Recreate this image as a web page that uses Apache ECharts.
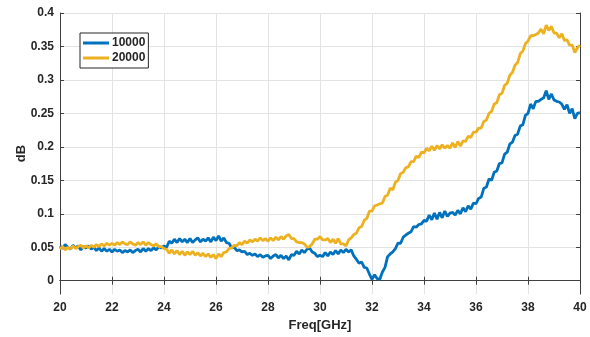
<!DOCTYPE html>
<html>
<head>
<meta charset="utf-8">
<script src="https://cdn.jsdelivr.net/npm/echarts@6.0.0/dist/echarts.min.js"></script>
<style>
  html, body { margin: 0; padding: 0; background: #fff; }
  #chart { width: 590px; height: 337px; }
</style>
</head>
<body>
<div id="chart"></div>
<script>
// Frequency grid, 20 to 40 GHz in 0.1 GHz steps
const freqs = Array.from({ length: 201 }, (_, i) => +(20 + i * 0.1).toFixed(1));

const xTicks = [20, 22, 24, 26, 28, 30, 32, 34, 36, 38, 40];
const yTicks = [0, 0.05, 0.1, 0.15, 0.2, 0.25, 0.3, 0.35, 0.4];

// 10000 (blue)
const s10000 = [
  0.052,0.048,0.054,0.050,0.047,0.053,0.049,0.052,0.046,0.051,
  0.049,0.052,0.047,0.050,0.045,0.049,0.044,0.048,0.044,0.047,
  0.043,0.047,0.044,0.046,0.042,0.045,0.043,0.046,0.042,0.045,
  0.047,0.043,0.048,0.044,0.048,0.045,0.049,0.046,0.051,0.049,
  0.052,0.050,0.059,0.056,0.062,0.057,0.063,0.058,0.062,0.057,
  0.063,0.057,0.061,0.064,0.058,0.062,0.059,0.064,0.058,0.065,
  0.060,0.067,0.059,0.064,0.057,0.056,0.049,0.050,0.045,0.046,
  0.043,0.044,0.039,0.041,0.038,0.040,0.036,0.039,0.035,0.037,
  0.038,0.033,0.037,0.039,0.034,0.038,0.033,0.037,0.031,0.039,
  0.038,0.044,0.040,0.046,0.042,0.047,0.049,0.043,0.041,0.036,
  0.038,0.036,0.042,0.037,0.043,0.039,0.045,0.040,0.046,0.042,
  0.047,0.043,0.046,0.037,0.032,0.026,0.028,0.020,0.019,0.010,
  0.002,0.009,0.003,0.002,0.013,0.020,0.036,0.040,0.043,0.048,
  0.056,0.056,0.065,0.068,0.071,0.073,0.081,0.080,0.084,0.085,
  0.090,0.089,0.098,0.091,0.101,0.092,0.102,0.094,0.104,0.096,
  0.101,0.102,0.098,0.105,0.100,0.109,0.103,0.112,0.107,0.116,
  0.115,0.123,0.125,0.138,0.140,0.152,0.150,0.162,0.164,0.175,
  0.176,0.189,0.192,0.204,0.207,0.217,0.219,0.231,0.233,0.247,
  0.250,0.264,0.257,0.268,0.268,0.271,0.273,0.284,0.271,0.279,
  0.270,0.268,0.267,0.264,0.256,0.263,0.250,0.257,0.242,0.250,
  0.251
];

// 20000 (yellow)
const s20000 = [
  0.047,0.051,0.046,0.050,0.047,0.052,0.048,0.051,0.053,0.049,
  0.052,0.049,0.053,0.050,0.054,0.051,0.055,0.052,0.056,0.053,
  0.056,0.053,0.057,0.054,0.058,0.055,0.054,0.058,0.055,0.053,
  0.057,0.054,0.058,0.053,0.057,0.054,0.052,0.055,0.051,0.051,
  0.048,0.047,0.041,0.046,0.040,0.045,0.039,0.044,0.038,0.043,
  0.039,0.044,0.038,0.042,0.037,0.041,0.036,0.040,0.035,0.039,
  0.033,0.040,0.036,0.042,0.043,0.048,0.049,0.053,0.052,0.057,
  0.054,0.059,0.056,0.061,0.058,0.062,0.059,0.064,0.060,0.063,
  0.059,0.064,0.060,0.065,0.061,0.066,0.062,0.067,0.069,0.063,
  0.063,0.058,0.057,0.057,0.055,0.050,0.051,0.055,0.062,0.062,
  0.066,0.061,0.061,0.063,0.057,0.062,0.056,0.063,0.055,0.055,
  0.052,0.061,0.064,0.069,0.071,0.079,0.081,0.090,0.093,0.104,
  0.104,0.112,0.113,0.115,0.116,0.126,0.128,0.138,0.136,0.147,
  0.150,0.160,0.162,0.169,0.170,0.178,0.178,0.186,0.184,0.192,
  0.191,0.198,0.194,0.201,0.195,0.202,0.197,0.203,0.198,0.202,
  0.198,0.206,0.199,0.208,0.201,0.209,0.208,0.216,0.214,0.222,
  0.222,0.228,0.228,0.238,0.240,0.250,0.253,0.264,0.266,0.278,
  0.280,0.292,0.295,0.307,0.311,0.322,0.326,0.339,0.343,0.354,
  0.358,0.366,0.366,0.368,0.370,0.376,0.369,0.382,0.374,0.380,
  0.370,0.370,0.363,0.369,0.359,0.360,0.352,0.352,0.341,0.348,
  0.352
];

const chart = echarts.init(document.getElementById('chart'));

const labelFont = { color: '#262626', fontWeight: 'bold', fontSize: 12, fontFamily: 'Liberation Sans, Arial, sans-serif' };
const axisColor = '#404040';
const gridColor = '#e3e3e3';

const pairs = vals => freqs.map((f, i) => [f, vals[i]]);

chart.setOption({
  animation: false,
  grid: { left: 60, right: 10, top: 13, bottom: 42, containLabel: false },
  legend: {
    left: 80, top: 33,
    orient: 'vertical',
    icon: 'rect',
    itemWidth: 26, itemHeight: 3,
    itemGap: 3,
    padding: [4, 3, 4, 3],
    borderColor: '#262626', borderWidth: 1,
    backgroundColor: '#fff',
    textStyle: { ...labelFont, padding: [0, 0, 0, -2] },
    data: ['10000', '20000']
  },
  xAxis: [{
    type: 'value', min: 20, max: 40, interval: 2,
    name: 'Freq[GHz]', nameLocation: 'middle', nameGap: 24,
    nameTextStyle: { ...labelFont, fontSize: 13 },
    axisLine: { lineStyle: { color: axisColor } },
    axisTick: { inside: true, length: 4, lineStyle: { color: axisColor } },
    axisLabel: { ...labelFont, margin: 8 },
    splitLine: { show: true, lineStyle: { color: gridColor } }
  }, {
    type: 'value', min: 20, max: 40, interval: 2, position: 'top',
    axisLine: { show: true, lineStyle: { color: axisColor } },
    axisTick: { show: true, inside: true, length: 4, lineStyle: { color: axisColor } },
    axisLabel: { show: false },
    splitLine: { show: false }
  }],
  yAxis: [{
    type: 'value', min: -0.02, max: 0.4,
    name: 'dB', nameLocation: 'middle', nameGap: 32, nameMoveOverlap: false,
    nameTextStyle: { ...labelFont, fontSize: 13 },
    axisLine: { show: true, lineStyle: { color: axisColor } },
    axisTick: { show: true, inside: true, length: 4, customValues: yTicks, lineStyle: { color: axisColor } },
    axisLabel: { ...labelFont, margin: 6, customValues: yTicks, formatter: v => String(+v.toFixed(2)) },
    splitLine: { show: true, lineStyle: { color: gridColor } }
  }, {
    type: 'value', min: -0.02, max: 0.4, position: 'right',
    axisLine: { show: true, lineStyle: { color: axisColor } },
    axisTick: { show: true, inside: true, length: 4, customValues: yTicks, lineStyle: { color: axisColor } },
    axisLabel: { show: false },
    splitLine: { show: false }
  }],
  series: [
    {
      name: '10000', type: 'line', data: pairs(s10000),
      showSymbol: false, symbol: 'none',
      lineStyle: { color: '#0072BD', width: 2.8 }, itemStyle: { color: '#0072BD' }
    },
    {
      name: '20000', type: 'line', data: pairs(s20000),
      showSymbol: false, symbol: 'none',
      lineStyle: { color: '#EDB120', width: 2.8 }, itemStyle: { color: '#EDB120' }
    }
  ]
});
</script>
</body>
</html>
